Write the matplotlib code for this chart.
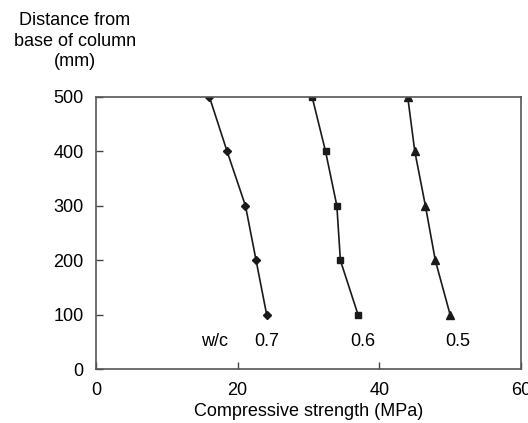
import matplotlib.pyplot as plt

plt.rcParams['font.family'] = ['Liberation Sans', 'DejaVu Sans']

# distance from base of column (mm)
distance = [500, 400, 300, 200, 100]

# compressive strength (MPa) for each w/c ratio
strength_07 = [16.0, 18.5, 21.1, 22.6, 24.1]
strength_06 = [30.5, 32.4, 34.0, 34.5, 37.0]
strength_05 = [44.0, 45.0, 46.5, 47.9, 50.0]

wc_labels = ['0.7', '0.6', '0.5']
wc_label_x = [24.1, 37.7, 51.1]

fs = 13

fig = plt.figure(figsize=(5.28, 4.23), dpi=100)
ax = fig.add_axes([0.1818, 0.1265, 0.805, 0.645])

line_kw = dict(color='#1a1a1a', linewidth=1.2, markeredgecolor='#1a1a1a', markerfacecolor='#1a1a1a')
ax.plot(strength_07, distance, marker='D', markersize=4, **line_kw)
ax.plot(strength_06, distance, marker='s', markersize=5, **line_kw)
ax.plot(strength_05, distance, marker='^', markersize=6, **line_kw)

ax.set_xlim(0, 60)
ax.set_ylim(0, 500)
ax.set_xticks([0, 20, 40, 60])
ax.set_yticks([0, 100, 200, 300, 400, 500])
ax.tick_params(direction='in', length=5, width=1, color='#444444', labelsize=fs)
ax.tick_params(axis='y', pad=9)
ax.tick_params(axis='x', pad=9)

for sp in ax.spines.values():
    sp.set_color('#555555')
    sp.set_linewidth(1.2)

ax.set_xlabel('Compressive strength (MPa)', fontsize=fs, labelpad=3)

# w/c annotations
ax.text(16.8, 51, 'w/c', fontsize=fs, ha='center', va='center')
for lbl, x in zip(wc_labels, wc_label_x):
    ax.text(x, 51, lbl, fontsize=fs, ha='center', va='center')

fig.text(75 / 528, 1 - 41 / 423, 'Distance from\nbase of column\n(mm)', fontsize=fs,
         ha='center', va='center', linespacing=1.3)

fig.savefig('out.png', dpi=100)
